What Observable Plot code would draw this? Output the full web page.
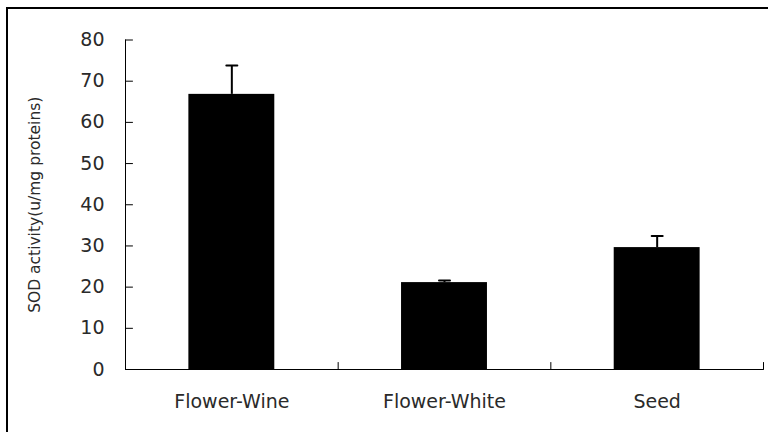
<!DOCTYPE html>
<html>
<head>
<meta charset="utf-8">
<script src="https://cdn.jsdelivr.net/npm/d3@7"></script>
<script src="https://cdn.jsdelivr.net/npm/@observablehq/plot@0.6"></script>
<style>
  html, body { margin: 0; padding: 0; background: #fff; overflow: hidden; }
  #wrap { position: relative; width: 768px; height: 432px; }
  #border { position: absolute; left: 6px; top: 7px; width: 900px; height: 600px;
            border-left: 2px solid #000; border-top: 2px solid #000; pointer-events: none; }
</style>
</head>
<body>
<div id="wrap"><div id="border"></div></div>
<script>
const categories = ["Flower-Wine", "Flower-White", "Seed"];
const values = [66.8, 21.1, 29.6];
const errors = [7.0, 0.5, 2.8];
const yTicks = [0, 10, 20, 30, 40, 50, 60, 70, 80];
const yLabel = "SOD activity(u/mg proteins)";

const data = categories.map((c, i) => ({ cat: c, pos: i + 0.5, value: values[i], err: errors[i] }));
const boundaries = d3.range(categories.length + 1);
const halfBar = 0.202;

const lineShape = { draw(context, l) { context.moveTo(0, 0); context.lineTo(0, -l); } };

const chart = Plot.plot({
  width: 768,
  height: 432,
  marginLeft: 125,
  marginRight: 5,
  marginTop: 39.5,
  marginBottom: 63,
  x: { type: "linear", domain: [0, categories.length], axis: null, label: null },
  y: { domain: [0, 80], axis: null, label: null },
  style: { fontFamily: "DejaVu Sans", fontSize: "19px", color: "#2a2a2a", background: "transparent" },
  marks: [
    Plot.rectY(data, { x1: d => d.pos - halfBar, x2: d => d.pos + halfBar, y1: 0, y2: "value", fill: "#000" }),
    Plot.ruleX(data, { x: "pos", y1: "value", y2: d => d.value + d.err, stroke: "#000", strokeWidth: 2 }),
    Plot.vector(data, { x: "pos", y: d => d.value + d.err, length: 11, rotate: 90, anchor: "middle", shape: lineShape, stroke: "#000", strokeWidth: 2 }),
    Plot.ruleX([0], { y1: 0, y2: 80, stroke: "#000", strokeWidth: 1 }),
    Plot.ruleY([0], { x1: 0, x2: categories.length, stroke: "#000", strokeWidth: 1 }),
    Plot.vector(yTicks, { x: 0, y: d => d, length: 7, rotate: 90, anchor: "start", shape: lineShape, stroke: "#000", strokeWidth: 1 }),
    Plot.vector(boundaries, { x: d => d, y: 0, length: 7, rotate: 0, anchor: "start", shape: lineShape, stroke: "#000", strokeWidth: 1 }),
    Plot.axisY({ ticks: yTicks, tickSize: 0, tickPadding: 21, tickFormat: d => String(d), label: null }),
    Plot.axisX({ ticks: data.map(d => d.pos), tickSize: 0, tickPadding: 25, tickFormat: (d) => categories[Math.floor(d)], label: null }),
    Plot.text([yLabel], { frameAnchor: "left", dx: -90, rotate: -90, text: d => d, textAnchor: "middle", lineAnchor: "middle", fontSize: 15.5, fill: "#2a2a2a" })
  ]
});
document.getElementById("wrap").prepend(chart);
</script>
</body>
</html>
